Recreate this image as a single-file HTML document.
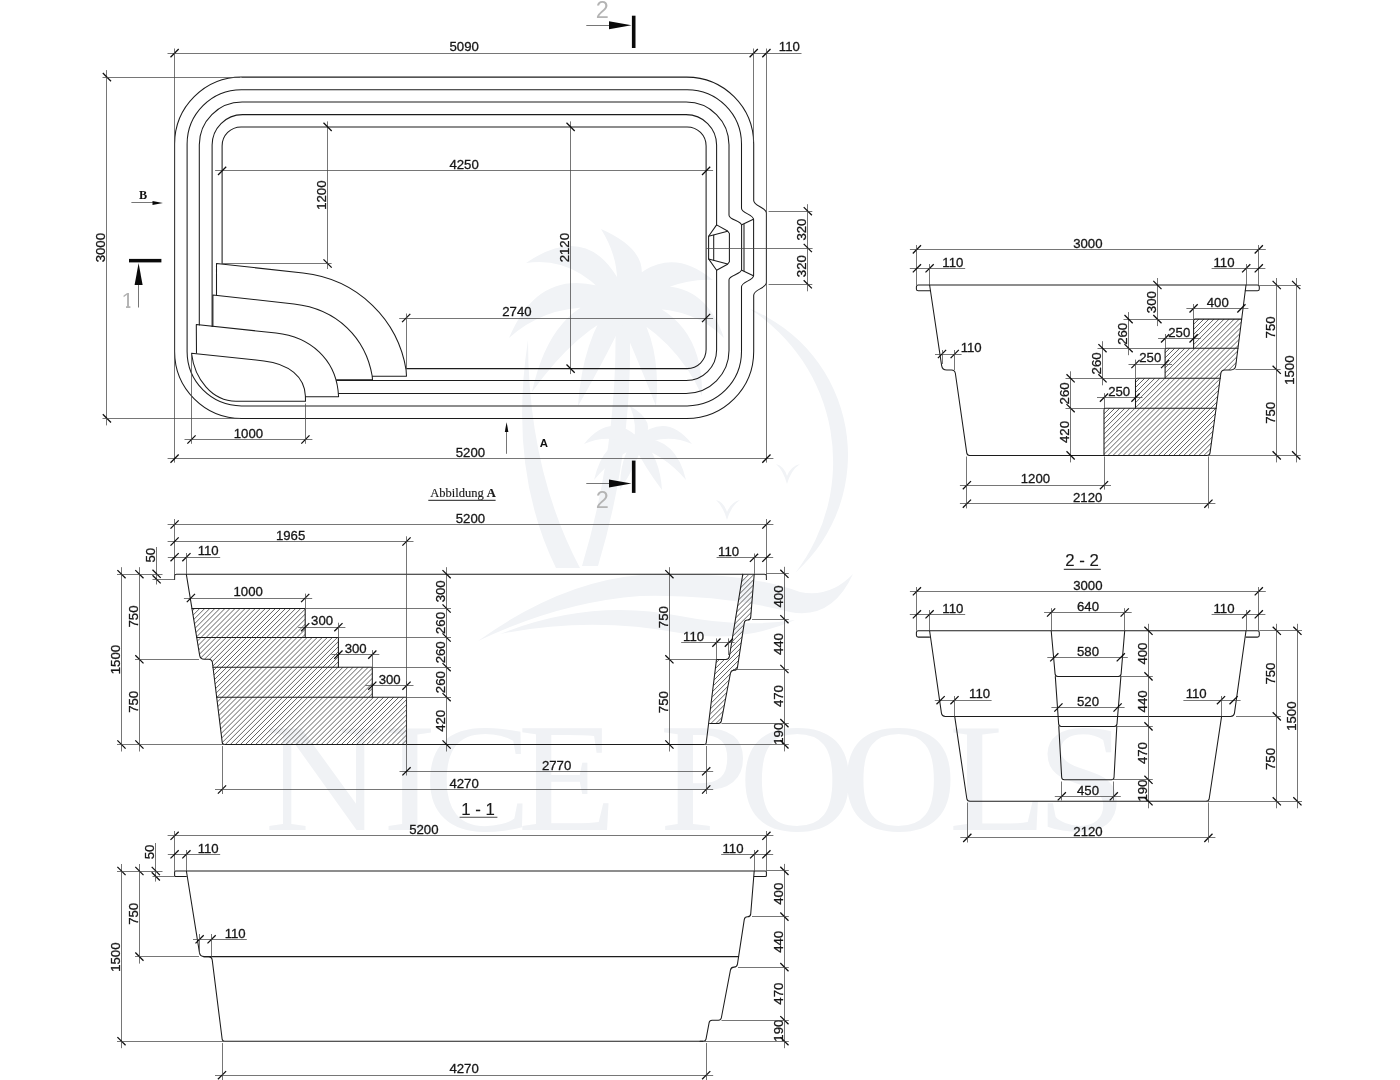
<!DOCTYPE html>
<html lang="de">
<head>
<meta charset="utf-8">
<title>Nice Pools – Abbildung A</title>
<style>
html,body{margin:0;padding:0;background:#fff;}
body{width:1400px;height:1080px;overflow:hidden;font-family:"Liberation Sans",sans-serif;}
svg{display:block;will-change:transform;}
.o{fill:none;stroke:#1c1c1c;stroke-width:1.05;stroke-linecap:round;stroke-linejoin:round;}
.o2{fill:none;stroke:#1c1c1c;stroke-width:1.15;stroke-linecap:round;stroke-linejoin:round;}
.h{fill:none;stroke:#505050;stroke-width:0.9;}
.d{fill:none;stroke:#484848;stroke-width:0.75;}
.t{fill:none;stroke:#0d0d0d;stroke-width:1.25;}
.tx{font-family:"Liberation Sans",sans-serif;font-size:13.2px;fill:#161616;stroke:#161616;stroke-width:0.3;text-anchor:middle;}
.lab{font-family:"Liberation Sans",sans-serif;font-size:16.8px;fill:#1a1a1a;stroke:#1a1a1a;stroke-width:0.15;text-anchor:middle;}
.sec{font-family:"Liberation Sans",sans-serif;font-size:22px;fill:#b4b4b4;text-anchor:middle;}
.ser{font-family:"Liberation Serif",serif;font-size:12.5px;fill:#1a1a1a;stroke:#1a1a1a;stroke-width:0.15;text-anchor:middle;}
.cu{fill:none;stroke:#4a4a4a;stroke-width:1.1;}
.bk{fill:#0a0a0a;stroke:none;}
</style>
</head>
<body>
<svg width="1400" height="1080" viewBox="0 0 1400 1080">
<g id="wm" fill="#f1f3f6" stroke="none">
<path d="M749.2 308.5 A158 158 0 0 1 795.7 572.4 A182 182 0 0 0 749.2 308.5 Z"/>
<path d="M528 340 Q528 470 580 568 L556 568 Q508 470 528 340 Z"/>
<path d="M615 306 Q620 440 582 566 L598 566 Q636 440 629 306 Z"/>
<circle cx="622" cy="302" r="14"/>
<circle cx="638" cy="442" r="8"/>
<path d="M630.6 299.5 Q663.2 256.5 601.0 229.0 Q624.8 267.5 613.4 304.5 Z M625.4 293.7 Q592.5 217.5 526.0 263.0 Q577.5 254.5 618.6 310.3 Z M619.3 293.4 Q541.9 258.9 509.0 338.0 Q554.1 297.1 624.7 310.6 Z M615.6 295.6 Q551.3 303.3 532.0 392.0 Q576.7 328.7 628.4 308.4 Z M624.1 310.7 Q672.7 277.4 713.0 280.0 Q663.3 238.6 619.9 293.3 Z M619.0 310.5 Q688.0 301.0 724.0 338.0 Q700.0 267.0 625.0 293.5 Z M615.1 307.8 Q676.3 337.7 702.0 396.0 Q703.7 314.3 628.9 296.2 Z M613.7 298.5 Q582.2 339.2 578.0 406.0 Q609.8 350.8 630.3 305.5 Z M613.4 304.8 Q633.7 349.7 656.0 406.0 Q662.3 340.3 630.6 299.2 Z"/>
<path d="M637.8 437.0 Q609.6 412.0 584.0 444.0 Q610.4 432.0 638.2 447.0 Z M634.7 438.2 Q603.5 438.4 594.0 480.0 Q616.5 453.6 641.3 445.8 Z M637.8 447.0 Q665.6 432.0 692.0 444.0 Q666.4 412.0 638.2 437.0 Z M634.9 445.9 Q663.8 453.8 686.0 480.0 Q676.2 438.2 641.1 438.1 Z M642.9 440.9 Q657.8 421.8 630.0 406.0 Q638.2 426.2 633.1 443.1 Z M633.3 440.2 Q619.6 458.8 620.0 490.0 Q636.4 465.2 642.7 443.8 Z M633.5 444.2 Q644.0 466.0 662.0 490.0 Q660.0 458.0 642.5 439.8 Z"/>
<path d="M478 641 Q560 582 640 575 Q740 570 800 592 Q830 598 853 574 Q832 620 790 612 Q720 594 640 596 Q560 602 478 641 Z"/>
<path d="M500 634 Q590 598 680 616 Q740 628 795 620 Q740 644 680 633 Q590 616 500 634 Z"/>
<path d="M716 500 Q724 502 727 512 Q731 502 740 500 Q731 506 727 520 Q723 506 716 500 Z M776 464 Q784 466 787 476 Q791 466 800 464 Q791 470 787 484 Q783 470 776 464 Z"/>
<text transform="scale(1.05 1)" x="252.1 364.5 403.3 493.1 600.0 628.0 703.5 800.2 903.6 987.5" y="830" style="font-family:'Liberation Serif',serif;font-size:154px;fill:#f0f2f5">NICE POOLS</text>
</g>

<path d="M241.6 77.1 H686.7 A67 67 0 0 1 753.7 144.1 V200.4 C753.7 206.16 766.4 207.44 766.4 213.2 V282.6 C766.4 288.27 753.7 289.53 753.7 295.2 V351.4 A67 67 0 0 1 686.7 418.4 H241.6 A67 67 0 0 1 174.6 351.4 V144.1 A67 67 0 0 1 241.6 77.1 Z" class="o"/>
<path d="M241.4 89.7 H687.2 A54.3 54.3 0 0 1 741.5 144 V208.2 C741.5 213.33 753.6 214.47 753.6 219.6 V275.4 C753.6 280.53 741.5 281.67 741.5 286.8 V351.6 A54.3 54.3 0 0 1 687.2 405.9 H241.4 A54.3 54.3 0 0 1 187.1 351.6 V144 A54.3 54.3 0 0 1 241.4 89.7 Z" class="o"/>
<path d="M199.3 325 V144.8 A42.8 42.8 0 0 1 242.1 102 H686.2 A42.8 42.8 0 0 1 729 144.8 V215.2 C729 219.79 741.6 220.81 741.6 225.4 V269.6 C741.6 274.19 729 275.21 729 279.8 V350.6 A42.8 42.8 0 0 1 686.2 393.4 H338.6" class="o"/>
<line x1="744" y1="224.4" x2="744" y2="270.6" class="o"/>
<line x1="753.4" y1="219.2" x2="741.8" y2="224.8" class="o"/>
<line x1="753.4" y1="275.8" x2="741.8" y2="270.2" class="o"/>
<path d="M212.1 326.5 V145.1 A30.5 30.5 0 0 1 242.6 114.6 H686.1 A30.5 30.5 0 0 1 716.6 145.1 V224.9" class="o"/>
<path d="M716.6 270.3 V350 A30.5 30.5 0 0 1 686.1 380.5 H336.6" class="o"/>
<path d="M716.6 224.9 L727.6 231 L729.4 233.5 L729.4 261.7 L727.6 264.2 L716.6 270.3 L708.6 258.9 L708.6 236.3 Z" class="o"/>
<path d="M708.6 236.3 L727.6 231.3" class="o"/>
<path d="M708.6 258.9 L727.6 263.9" class="o"/>
<path d="M713.7 235.2 L713.7 260" class="o"/>
<path d="M222.1 263.5 V145.9 A19 19 0 0 1 241.1 126.9 H687.1 A19 19 0 0 1 706.1 145.9 V349.6 A19 19 0 0 1 687.1 368.6 H406.2" class="o"/>
<path d="M216.5 295 L216.5 263.4 L303 273.1 C358.65 279.33 398.2 320.63 406.1 370 L406.5 376.3 H372.4" class="o"/>
<path d="M212.9 326.5 L212.9 295 L294 304.0 C337.73 308.9 365.83 338.54 372.2 376 L372.5 379.8 H336.6" class="o"/>
<path d="M196.5 353 L196.3 324.6 L276 333.0 C311.78 337.01 334.43 360.21 338 390 L338.6 396.8 H305.5" class="o"/>
<path d="M191.5 353.2 L264 360.9 C288.84 363.68 304.83 377.01 305.4 396 L305.5 401.2 H236 C212 401.2 194.6 379.01 191.5 353.2" class="o"/>
<line x1="167.5" y1="53.5" x2="801.5" y2="53.5" class="d"/>
<line x1="170.5" y1="57.2" x2="178.7" y2="49" class="t"/>
<line x1="749.6" y1="57.2" x2="757.8" y2="49" class="t"/>
<line x1="762.3" y1="57.2" x2="770.5" y2="49" class="t"/>
<text x="464.2" y="51.3" class="tx">5090</text>
<text x="789.3" y="51.3" class="tx">110</text>
<line x1="174.5" y1="48.5" x2="174.5" y2="462.6" class="d"/>
<line x1="753.5" y1="48.5" x2="753.5" y2="142" class="d"/>
<line x1="766.5" y1="48.5" x2="766.5" y2="462.6" class="d"/>
<line x1="106.5" y1="70.1" x2="106.5" y2="425.4" class="d"/>
<line x1="102.8" y1="73" x2="111" y2="81.2" class="t"/>
<line x1="102.8" y1="414.3" x2="111" y2="422.5" class="t"/>
<line x1="102.5" y1="77.5" x2="240" y2="77.5" class="d"/>
<line x1="102.5" y1="418.5" x2="240" y2="418.5" class="d"/>
<text transform="translate(105.1 247.7) rotate(-90)" class="tx">3000</text>
<line x1="215.1" y1="170.5" x2="713.1" y2="170.5" class="d"/>
<line x1="218" y1="175" x2="226.2" y2="166.8" class="t"/>
<line x1="702" y1="175" x2="710.2" y2="166.8" class="t"/>
<text x="464.1" y="169.1" class="tx">4250</text>
<line x1="327.5" y1="121.4" x2="327.5" y2="269" class="d"/>
<line x1="323.5" y1="122.8" x2="331.7" y2="131" class="t"/>
<line x1="323.5" y1="259.4" x2="331.7" y2="267.6" class="t"/>
<line x1="222.1" y1="263.5" x2="331.6" y2="263.5" class="d"/>
<text transform="translate(325.8 195.2) rotate(-90)" class="tx">1200</text>
<line x1="570.5" y1="121.4" x2="570.5" y2="374.1" class="d"/>
<line x1="566.5" y1="122.8" x2="574.7" y2="131" class="t"/>
<line x1="566.5" y1="364.5" x2="574.7" y2="372.7" class="t"/>
<text transform="translate(568.8 247.7) rotate(-90)" class="tx">2120</text>
<line x1="399.2" y1="318.5" x2="713.1" y2="318.5" class="d"/>
<line x1="402.1" y1="322.1" x2="410.3" y2="313.9" class="t"/>
<line x1="702" y1="322.1" x2="710.2" y2="313.9" class="t"/>
<line x1="406.5" y1="313.5" x2="406.5" y2="369" class="d"/>
<text x="516.9" y="316.2" class="tx">2740</text>
<line x1="807.5" y1="204.2" x2="807.5" y2="291.3" class="d"/>
<line x1="803.7" y1="207.1" x2="811.9" y2="215.3" class="t"/>
<line x1="803.7" y1="243.9" x2="811.9" y2="252.1" class="t"/>
<line x1="803.7" y1="280.2" x2="811.9" y2="288.4" class="t"/>
<line x1="768.6" y1="211.5" x2="812.3" y2="211.5" class="d"/>
<line x1="706.1" y1="248.5" x2="812.6" y2="248.5" class="d"/>
<line x1="768.6" y1="284.5" x2="812.3" y2="284.5" class="d"/>
<text transform="translate(806 229.6) rotate(-90)" class="tx">320</text>
<text transform="translate(806 266.2) rotate(-90)" class="tx">320</text>
<line x1="184.5" y1="439.5" x2="312.4" y2="439.5" class="d"/>
<line x1="187.4" y1="443.6" x2="195.6" y2="435.4" class="t"/>
<line x1="301.3" y1="443.6" x2="309.5" y2="435.4" class="t"/>
<line x1="191.5" y1="353.2" x2="191.5" y2="443.8" class="d"/>
<line x1="305.5" y1="403.5" x2="305.5" y2="443.8" class="d"/>
<text x="248.4" y="437.7" class="tx">1000</text>
<line x1="167.6" y1="458.5" x2="773.4" y2="458.5" class="d"/>
<line x1="170.5" y1="462.7" x2="178.7" y2="454.5" class="t"/>
<line x1="762.3" y1="462.7" x2="770.5" y2="454.5" class="t"/>
<text x="470.4" y="456.8" class="tx">5200</text>
<line x1="131.4" y1="202.5" x2="155" y2="202.5" class="d"/>
<path d="M162.9 202.9 L152.5 200.9 L152.5 204.9 Z" class="bk"/>
<text x="143.1" y="199" style="font-family:'Liberation Serif',serif;font-weight:bold;font-size:12.2px;fill:#111;text-anchor:middle">B</text>
<line x1="506.5" y1="430" x2="506.5" y2="453.8" class="d"/>
<path d="M506.6 422.2 L504.8 432 L508.4 432 Z" class="bk"/>
<text x="543.9" y="446.8" style="font-family:'Liberation Sans',sans-serif;font-weight:bold;font-size:11.4px;fill:#111;text-anchor:middle">A</text>
<rect x="129" y="258.9" width="32.4" height="3.5" class="bk"/>
<path d="M138.6 263 L134.6 285 L142.6 285 Z" class="bk"/>
<line x1="138.5" y1="285" x2="138.5" y2="307.5" class="d"/>
<clipPath id="c1"><path d="M118 286 H133 V300 H130.4 V310 H126 V300 H118 Z"/></clipPath>
<text x="127.5" y="307.8" class="sec" clip-path="url(#c1)">1</text>
<rect x="631.9" y="15.7" width="3.6" height="32.3" class="bk"/>
<path d="M631.5 25.2 L609 21.2 L609 29.2 Z" class="bk"/>
<line x1="586.3" y1="25.5" x2="609" y2="25.5" class="d"/>
<text x="602.4" y="18.2" class="sec" style="font-size:23.5px">2</text>
<rect x="631.9" y="460.6" width="3.6" height="32.3" class="bk"/>
<path d="M631.5 483.4 L609 479.4 L609 487.4 Z" class="bk"/>
<line x1="586.3" y1="483.5" x2="609" y2="483.5" class="d"/>
<text x="602.4" y="508.2" class="sec" style="font-size:23.5px">2</text>
<text x="463" y="497" class="ser">Abbildung <tspan font-weight="bold">A</tspan></text>
<line x1="428.3" y1="500.4" x2="495.6" y2="500.4" class="cu"/>
<path d="M174.6 579.5 V576 Q174.6 574.2 176.4 574.2 H764.6 Q766.4 574.2 766.4 576 V579.5" class="o"/>
<clipPath id="hc1"><path d="M191.94 608.5 L199.65 655.35 Q200.3 659.3 204.3 659.3 L208.5 659.3 Q212 659.3 212.43 662.77 L222.23 742.32 Q222.5 744.5 224.7 744.5 L406.5 744.5 L406.5 697.2 L372.3 697.2 L372.3 667.2 L338.4 667.2 L338.4 637.5 L305.2 637.5 L305.2 608.5 Z"/></clipPath>
<path d="M52.6 745.5L190.6 607.5M57.65 745.5L195.65 607.5M62.7 745.5L200.7 607.5M67.75 745.5L205.75 607.5M72.8 745.5L210.8 607.5M77.85 745.5L215.85 607.5M82.9 745.5L220.9 607.5M87.95 745.5L225.95 607.5M93 745.5L231 607.5M98.05 745.5L236.05 607.5M103.1 745.5L241.1 607.5M108.15 745.5L246.15 607.5M113.2 745.5L251.2 607.5M118.25 745.5L256.25 607.5M123.3 745.5L261.3 607.5M128.35 745.5L266.35 607.5M133.4 745.5L271.4 607.5M138.45 745.5L276.45 607.5M143.5 745.5L281.5 607.5M148.55 745.5L286.55 607.5M153.6 745.5L291.6 607.5M158.65 745.5L296.65 607.5M163.7 745.5L301.7 607.5M168.75 745.5L306.75 607.5M173.8 745.5L311.8 607.5M178.85 745.5L316.85 607.5M183.9 745.5L321.9 607.5M188.95 745.5L326.95 607.5M194 745.5L332 607.5M199.05 745.5L337.05 607.5M204.1 745.5L342.1 607.5M209.15 745.5L347.15 607.5M214.2 745.5L352.2 607.5M219.25 745.5L357.25 607.5M224.3 745.5L362.3 607.5M229.35 745.5L367.35 607.5M234.4 745.5L372.4 607.5M239.45 745.5L377.45 607.5M244.5 745.5L382.5 607.5M249.55 745.5L387.55 607.5M254.6 745.5L392.6 607.5M259.65 745.5L397.65 607.5M264.7 745.5L402.7 607.5M269.75 745.5L407.75 607.5M274.8 745.5L412.8 607.5M279.85 745.5L417.85 607.5M284.9 745.5L422.9 607.5M289.95 745.5L427.95 607.5M295 745.5L433 607.5M300.05 745.5L438.05 607.5M305.1 745.5L443.1 607.5M310.15 745.5L448.15 607.5M315.2 745.5L453.2 607.5M320.25 745.5L458.25 607.5M325.3 745.5L463.3 607.5M330.35 745.5L468.35 607.5M335.4 745.5L473.4 607.5M340.45 745.5L478.45 607.5M345.5 745.5L483.5 607.5M350.55 745.5L488.55 607.5M355.6 745.5L493.6 607.5M360.65 745.5L498.65 607.5M365.7 745.5L503.7 607.5M370.75 745.5L508.75 607.5M375.8 745.5L513.8 607.5M380.85 745.5L518.85 607.5M385.9 745.5L523.9 607.5M390.95 745.5L528.95 607.5M396 745.5L534 607.5M401.05 745.5L539.05 607.5M406.1 745.5L544.1 607.5" class="h" clip-path="url(#hc1)"/>
<path d="M191.94 608.5 H305.2 V637.5" class="o"/>
<path d="M196.71 637.5 H338.4 V667.2" class="o"/>
<path d="M212.97 667.2 H372.3 V697.2" class="o"/>
<path d="M216.67 697.2 H406.5 V744.5" class="o"/>
<clipPath id="hc2"><path d="M754.2 574.2 L750.73 617.11 Q750.5 620 747.6 620 L747.6 620 Q744.7 620 744.26 622.87 L737.45 667.33 Q737 670.3 734 670.3 L734 670.3 Q731 670.3 730.44 673.25 L721.37 720.94 Q720.9 723.4 718.4 723.4 L709.6 723.4 L709 723.4 L716.5 659.4 L726.2 659.4 L728.9 656.8 L742.8 574.2 Z"/></clipPath>
<path d="M553.45 724.4L704.65 573.2M558.5 724.4L709.7 573.2M563.55 724.4L714.75 573.2M568.6 724.4L719.8 573.2M573.65 724.4L724.85 573.2M578.7 724.4L729.9 573.2M583.75 724.4L734.95 573.2M588.8 724.4L740 573.2M593.85 724.4L745.05 573.2M598.9 724.4L750.1 573.2M603.95 724.4L755.15 573.2M609 724.4L760.2 573.2M614.05 724.4L765.25 573.2M619.1 724.4L770.3 573.2M624.15 724.4L775.35 573.2M629.2 724.4L780.4 573.2M634.25 724.4L785.45 573.2M639.3 724.4L790.5 573.2M644.35 724.4L795.55 573.2M649.4 724.4L800.6 573.2M654.45 724.4L805.65 573.2M659.5 724.4L810.7 573.2M664.55 724.4L815.75 573.2M669.6 724.4L820.8 573.2M674.65 724.4L825.85 573.2M679.7 724.4L830.9 573.2M684.75 724.4L835.95 573.2M689.8 724.4L841 573.2M694.85 724.4L846.05 573.2M699.9 724.4L851.1 573.2M704.95 724.4L856.15 573.2M710 724.4L861.2 573.2M715.05 724.4L866.25 573.2M720.1 724.4L871.3 573.2M725.15 724.4L876.35 573.2M730.2 724.4L881.4 573.2M735.25 724.4L886.45 573.2M740.3 724.4L891.5 573.2M745.35 724.4L896.55 573.2M750.4 724.4L901.6 573.2" class="h" clip-path="url(#hc2)"/>
<path d="M186.3 574.2 L199.65 655.35 Q200.3 659.3 204.3 659.3 L208.5 659.3 Q212 659.3 212.43 662.77 L222.23 742.32 Q222.5 744.5 224.7 744.5 L702.9 744.5" class="o"/>
<path d="M754.2 574.2 L750.73 617.11 Q750.5 620 747.6 620 L747.6 620 Q744.7 620 744.26 622.87 L737.45 667.33 Q737 670.3 734 670.3 L734 670.3 Q731 670.3 730.44 673.25 L721.37 720.94 Q720.9 723.4 718.4 723.4 L709.6 723.4" class="o"/>
<path d="M742.8 574.2 L729.38 656.44 Q728.9 659.4 725.9 659.4 L716.5 659.4 L706.19 742.96 Q706 744.5 704.45 744.5 L702.9 744.5" class="o"/>
<line x1="167.6" y1="524.5" x2="773.4" y2="524.5" class="d"/>
<line x1="170.5" y1="528.6" x2="178.7" y2="520.4" class="t"/>
<line x1="762.3" y1="528.6" x2="770.5" y2="520.4" class="t"/>
<text x="470.4" y="522.7" class="tx">5200</text>
<line x1="174.5" y1="519" x2="174.5" y2="579.3" class="d"/>
<line x1="766.5" y1="519" x2="766.5" y2="579.3" class="d"/>
<line x1="167.6" y1="541.5" x2="413.5" y2="541.5" class="d"/>
<line x1="170.5" y1="545.6" x2="178.7" y2="537.4" class="t"/>
<line x1="402.4" y1="545.6" x2="410.6" y2="537.4" class="t"/>
<text x="290.6" y="539.7" class="tx">1965</text>
<line x1="406.5" y1="536.3" x2="406.5" y2="775.5" class="d"/>
<line x1="167.8" y1="557.5" x2="220.2" y2="557.5" class="d"/>
<line x1="170.5" y1="561.3" x2="178.7" y2="553.1" class="t"/>
<line x1="182.3" y1="561.3" x2="190.5" y2="553.1" class="t"/>
<text x="208.2" y="555.4" class="tx">110</text>
<line x1="186.5" y1="553" x2="186.5" y2="573.8" class="d"/>
<line x1="121.5" y1="567.2" x2="121.5" y2="751.5" class="d"/>
<line x1="117.4" y1="570.1" x2="125.6" y2="578.3" class="t"/>
<line x1="117.4" y1="740.4" x2="125.6" y2="748.6" class="t"/>
<text transform="translate(119.7 659.6) rotate(-90)" class="tx">1500</text>
<line x1="139.5" y1="567.2" x2="139.5" y2="751.5" class="d"/>
<line x1="135.3" y1="570.1" x2="143.5" y2="578.3" class="t"/>
<line x1="135.3" y1="655.2" x2="143.5" y2="663.4" class="t"/>
<line x1="135.3" y1="740.4" x2="143.5" y2="748.6" class="t"/>
<text transform="translate(137.6 616.5) rotate(-90)" class="tx">750</text>
<text transform="translate(137.6 701.8) rotate(-90)" class="tx">750</text>
<line x1="156.5" y1="547" x2="156.5" y2="584.5" class="d"/>
<line x1="152.5" y1="569.7" x2="160.7" y2="577.9" class="t"/>
<line x1="152.5" y1="575.2" x2="160.7" y2="583.4" class="t"/>
<text transform="translate(154.8 555.2) rotate(-90)" class="tx">50</text>
<line x1="117" y1="574.5" x2="162.5" y2="574.5" class="d"/>
<line x1="152.5" y1="579.5" x2="174.6" y2="579.5" class="d"/>
<line x1="135" y1="659.5" x2="199" y2="659.5" class="d"/>
<line x1="117" y1="744.5" x2="225" y2="744.5" class="d"/>
<line x1="183.9" y1="598.5" x2="312.2" y2="598.5" class="d"/>
<line x1="186.8" y1="602.1" x2="195" y2="593.9" class="t"/>
<line x1="301.1" y1="602.1" x2="309.3" y2="593.9" class="t"/>
<text x="248.2" y="596.2" class="tx">1000</text>
<line x1="305.5" y1="593.6" x2="305.5" y2="608.2" class="d"/>
<line x1="298.2" y1="627.5" x2="345.4" y2="627.5" class="d"/>
<line x1="301.1" y1="631.3" x2="309.3" y2="623.1" class="t"/>
<line x1="334.3" y1="631.3" x2="342.5" y2="623.1" class="t"/>
<text x="322.1" y="625.4" class="tx">300</text>
<line x1="338.5" y1="622.7" x2="338.5" y2="637.5" class="d"/>
<line x1="331.4" y1="654.5" x2="379.3" y2="654.5" class="d"/>
<line x1="334.3" y1="658.7" x2="342.5" y2="650.5" class="t"/>
<line x1="368.2" y1="658.7" x2="376.4" y2="650.5" class="t"/>
<text x="355.65" y="652.8" class="tx">300</text>
<line x1="372.5" y1="650.1" x2="372.5" y2="667.2" class="d"/>
<line x1="365.3" y1="685.5" x2="413.5" y2="685.5" class="d"/>
<line x1="368.2" y1="689.8" x2="376.4" y2="681.6" class="t"/>
<line x1="402.4" y1="689.8" x2="410.6" y2="681.6" class="t"/>
<text x="389.7" y="683.9" class="tx">300</text>
<line x1="406.5" y1="681.2" x2="406.5" y2="697.2" class="d"/>
<line x1="446.5" y1="567.2" x2="446.5" y2="751.5" class="d"/>
<line x1="442.5" y1="570.1" x2="450.7" y2="578.3" class="t"/>
<line x1="442.5" y1="604.4" x2="450.7" y2="612.6" class="t"/>
<line x1="442.5" y1="633.4" x2="450.7" y2="641.6" class="t"/>
<line x1="442.5" y1="663.1" x2="450.7" y2="671.3" class="t"/>
<line x1="442.5" y1="693.1" x2="450.7" y2="701.3" class="t"/>
<line x1="442.5" y1="740.4" x2="450.7" y2="748.6" class="t"/>
<text transform="translate(444.8 591.35) rotate(-90)" class="tx">300</text>
<text transform="translate(444.8 623) rotate(-90)" class="tx">260</text>
<text transform="translate(444.8 652.35) rotate(-90)" class="tx">260</text>
<text transform="translate(444.8 682.2) rotate(-90)" class="tx">260</text>
<text transform="translate(444.8 720.85) rotate(-90)" class="tx">420</text>
<line x1="305.2" y1="608.5" x2="451" y2="608.5" class="d"/>
<line x1="338.4" y1="637.5" x2="451" y2="637.5" class="d"/>
<line x1="372.3" y1="667.5" x2="451" y2="667.5" class="d"/>
<line x1="406.5" y1="697.5" x2="451" y2="697.5" class="d"/>
<line x1="669.5" y1="567.2" x2="669.5" y2="751.5" class="d"/>
<line x1="665.3" y1="570.1" x2="673.5" y2="578.3" class="t"/>
<line x1="665.3" y1="655.2" x2="673.5" y2="663.4" class="t"/>
<line x1="665.3" y1="740.4" x2="673.5" y2="748.6" class="t"/>
<text transform="translate(667.6 617.2) rotate(-90)" class="tx">750</text>
<text transform="translate(667.6 702.2) rotate(-90)" class="tx">750</text>
<line x1="665.5" y1="659.5" x2="716.4" y2="659.5" class="d"/>
<line x1="716.6" y1="557.5" x2="773.2" y2="557.5" class="d"/>
<line x1="749.9" y1="561.9" x2="758.1" y2="553.7" class="t"/>
<line x1="762.3" y1="561.9" x2="770.5" y2="553.7" class="t"/>
<text x="728.6" y="556" class="tx">110</text>
<line x1="754.5" y1="553.5" x2="754.5" y2="573.8" class="d"/>
<line x1="681.2" y1="642.5" x2="734.6" y2="642.5" class="d"/>
<line x1="712.3" y1="646.7" x2="720.5" y2="638.5" class="t"/>
<line x1="724.8" y1="646.7" x2="733" y2="638.5" class="t"/>
<text x="693.6" y="640.8" class="tx">110</text>
<line x1="716.5" y1="638.4" x2="716.5" y2="659.3" class="d"/>
<line x1="728.5" y1="638.4" x2="728.5" y2="655" class="d"/>
<line x1="784.5" y1="566.8" x2="784.5" y2="751.4" class="d"/>
<line x1="780.3" y1="569.7" x2="788.5" y2="577.9" class="t"/>
<line x1="780.3" y1="615.1" x2="788.5" y2="623.3" class="t"/>
<line x1="780.3" y1="664.9" x2="788.5" y2="673.1" class="t"/>
<line x1="780.3" y1="719" x2="788.5" y2="727.2" class="t"/>
<line x1="780.3" y1="740.3" x2="788.5" y2="748.5" class="t"/>
<text transform="translate(782.6 596.5) rotate(-90)" class="tx">400</text>
<text transform="translate(782.6 644.1) rotate(-90)" class="tx">440</text>
<text transform="translate(782.6 696.05) rotate(-90)" class="tx">470</text>
<text transform="translate(782.6 733.75) rotate(-90)" class="tx">190</text>
<line x1="766.4" y1="573.5" x2="788.8" y2="573.5" class="d"/>
<line x1="752" y1="619.5" x2="788.8" y2="619.5" class="d"/>
<line x1="733" y1="669.5" x2="788.8" y2="669.5" class="d"/>
<line x1="721.5" y1="723.5" x2="788.8" y2="723.5" class="d"/>
<line x1="704" y1="744.5" x2="788.8" y2="744.5" class="d"/>
<line x1="399.5" y1="771.5" x2="713.2" y2="771.5" class="d"/>
<line x1="402.4" y1="775.4" x2="410.6" y2="767.2" class="t"/>
<line x1="702.1" y1="775.4" x2="710.3" y2="767.2" class="t"/>
<text x="556.6" y="769.5" class="tx">2770</text>
<line x1="215" y1="789.5" x2="713.2" y2="789.5" class="d"/>
<line x1="217.9" y1="793.6" x2="226.1" y2="785.4" class="t"/>
<line x1="702.1" y1="793.6" x2="710.3" y2="785.4" class="t"/>
<text x="464.1" y="787.7" class="tx">4270</text>
<line x1="222.5" y1="746" x2="222.5" y2="794" class="d"/>
<line x1="706.5" y1="746" x2="706.5" y2="794" class="d"/>
<text x="478" y="814.6" class="lab">1 - 1</text>
<line x1="459.6" y1="817.3" x2="497.4" y2="817.3" class="cu"/>
<path d="M186.4 876.4 H175.6 Q174.6 876.4 174.6 875.4 V871.9 Q174.6 870.9 175.6 870.9 H765.4 Q766.4 870.9 766.4 871.9 V875.4 Q766.4 876.4 765.4 876.4 H754.2" class="o"/>
<path d="M186.4 871 L199.47 952.65 Q200.1 956.6 204.1 956.6 L208.3 956.6 Q211.8 956.6 212.24 960.07 L222.13 1039.02 Q222.4 1041.2 224.6 1041.2 L703 1041.2" class="o"/>
<path d="M754.2 871 L750.73 913.91 Q750.5 916.8 747.6 916.8 L747.6 916.8 Q744.7 916.8 744.26 919.67 L737.45 964.13 Q737 967.1 734 967.1 L734 967.1 Q731 967.1 730.44 970.05 L721.37 1017.74 Q720.9 1020.2 718.4 1020.2 L712.1 1020.2 Q709.6 1020.2 709.13 1022.66 L706.01 1039.04 Q705.6 1041.2 703.4 1041.2 L700 1041.2" class="o"/>
<line x1="203.5" y1="956.6" x2="738.6" y2="956.6" class="o"/>
<line x1="167.6" y1="835.5" x2="773.4" y2="835.5" class="d"/>
<line x1="170.5" y1="839.9" x2="178.7" y2="831.7" class="t"/>
<line x1="762.3" y1="839.9" x2="770.5" y2="831.7" class="t"/>
<text x="423.8" y="834" class="tx">5200</text>
<line x1="174.5" y1="831" x2="174.5" y2="870.9" class="d"/>
<line x1="766.5" y1="831" x2="766.5" y2="870.9" class="d"/>
<line x1="167.8" y1="854.5" x2="220.2" y2="854.5" class="d"/>
<line x1="170.5" y1="858.4" x2="178.7" y2="850.2" class="t"/>
<line x1="182.3" y1="858.4" x2="190.5" y2="850.2" class="t"/>
<text x="208.2" y="852.5" class="tx">110</text>
<line x1="186.5" y1="850" x2="186.5" y2="870.9" class="d"/>
<line x1="721.2" y1="854.5" x2="773.2" y2="854.5" class="d"/>
<line x1="750.1" y1="858.4" x2="758.3" y2="850.2" class="t"/>
<line x1="762.3" y1="858.4" x2="770.5" y2="850.2" class="t"/>
<text x="733" y="852.5" class="tx">110</text>
<line x1="754.5" y1="850" x2="754.5" y2="870.9" class="d"/>
<line x1="121.5" y1="864" x2="121.5" y2="1048.2" class="d"/>
<line x1="117.4" y1="866.9" x2="125.6" y2="875.1" class="t"/>
<line x1="117.4" y1="1037.1" x2="125.6" y2="1045.3" class="t"/>
<text transform="translate(119.7 957.2) rotate(-90)" class="tx">1500</text>
<line x1="139.5" y1="864" x2="139.5" y2="963.6" class="d"/>
<line x1="135.3" y1="866.9" x2="143.5" y2="875.1" class="t"/>
<line x1="135.3" y1="952.5" x2="143.5" y2="960.7" class="t"/>
<text transform="translate(137.6 913.8) rotate(-90)" class="tx">750</text>
<line x1="155.5" y1="843" x2="155.5" y2="881.6" class="d"/>
<line x1="151.7" y1="866.9" x2="159.9" y2="875.1" class="t"/>
<line x1="151.7" y1="872.3" x2="159.9" y2="880.5" class="t"/>
<text transform="translate(154 852) rotate(-90)" class="tx">50</text>
<line x1="117" y1="871.5" x2="162.5" y2="871.5" class="d"/>
<line x1="152.5" y1="876.5" x2="174.6" y2="876.5" class="d"/>
<line x1="135" y1="956.5" x2="199" y2="956.5" class="d"/>
<line x1="117" y1="1041.5" x2="224" y2="1041.5" class="d"/>
<line x1="193" y1="939.5" x2="246.8" y2="939.5" class="d"/>
<line x1="195.5" y1="943.4" x2="203.7" y2="935.2" class="t"/>
<line x1="207.5" y1="943.4" x2="215.7" y2="935.2" class="t"/>
<text x="235.2" y="937.5" class="tx">110</text>
<line x1="199.5" y1="934" x2="199.5" y2="953" class="d"/>
<line x1="211.5" y1="934" x2="211.5" y2="958" class="d"/>
<line x1="784.5" y1="863.9" x2="784.5" y2="1048.2" class="d"/>
<line x1="780.3" y1="866.8" x2="788.5" y2="875" class="t"/>
<line x1="780.3" y1="912.5" x2="788.5" y2="920.7" class="t"/>
<line x1="780.3" y1="963" x2="788.5" y2="971.2" class="t"/>
<line x1="780.3" y1="1016.1" x2="788.5" y2="1024.3" class="t"/>
<line x1="780.3" y1="1037.1" x2="788.5" y2="1045.3" class="t"/>
<text transform="translate(782.6 893.75) rotate(-90)" class="tx">400</text>
<text transform="translate(782.6 941.85) rotate(-90)" class="tx">440</text>
<text transform="translate(782.6 993.65) rotate(-90)" class="tx">470</text>
<text transform="translate(782.6 1030.7) rotate(-90)" class="tx">190</text>
<line x1="766.4" y1="870.5" x2="788.8" y2="870.5" class="d"/>
<line x1="752" y1="916.5" x2="788.8" y2="916.5" class="d"/>
<line x1="738" y1="967.5" x2="788.8" y2="967.5" class="d"/>
<line x1="721.5" y1="1020.5" x2="788.8" y2="1020.5" class="d"/>
<line x1="704" y1="1041.5" x2="788.8" y2="1041.5" class="d"/>
<line x1="215" y1="1075.5" x2="713.2" y2="1075.5" class="d"/>
<line x1="217.9" y1="1079.3" x2="226.1" y2="1071.1" class="t"/>
<line x1="702.1" y1="1079.3" x2="710.3" y2="1071.1" class="t"/>
<text x="464.1" y="1073.4" class="tx">4270</text>
<line x1="222.5" y1="1043" x2="222.5" y2="1080" class="d"/>
<line x1="706.5" y1="1043" x2="706.5" y2="1080" class="d"/>
<path d="M930.4 290.8 H918.3 Q916.4 290.8 916.4 288.9 V287 Q916.4 285 918.4 285 H1257.3 Q1259.3 285 1259.3 287 V288.9 Q1259.3 290.8 1257.4 290.8 H1245.3" class="o"/>
<path d="M929.6 285 L941.64 365.55 Q942.3 370 946.8 370 L951.4 370 Q954.9 370 955.39 373.46 L966.75 452.93 Q967.1 455.4 969.6 455.4 L1104 455.4" class="o"/>
<clipPath id="hc3"><path d="M1241.67 319.1 L1235.77 365.54 Q1235.2 370 1230.7 370 L1224.8 370 Q1221.3 370 1220.83 373.47 L1210.04 452.92 Q1209.7 455.4 1207.2 455.4 L1104 455.4 L1104.0 408.2 L1135.5 408.2 L1135.5 378.3 L1165.1 378.3 L1165.1 348.2 L1193.6 348.2 L1193.6 319.1 Z"/></clipPath>
<path d="M960.55 456.4L1098.85 318.1M965.6 456.4L1103.9 318.1M970.65 456.4L1108.95 318.1M975.7 456.4L1114 318.1M980.75 456.4L1119.05 318.1M985.8 456.4L1124.1 318.1M990.85 456.4L1129.15 318.1M995.9 456.4L1134.2 318.1M1000.95 456.4L1139.25 318.1M1006 456.4L1144.3 318.1M1011.05 456.4L1149.35 318.1M1016.1 456.4L1154.4 318.1M1021.15 456.4L1159.45 318.1M1026.2 456.4L1164.5 318.1M1031.25 456.4L1169.55 318.1M1036.3 456.4L1174.6 318.1M1041.35 456.4L1179.65 318.1M1046.4 456.4L1184.7 318.1M1051.45 456.4L1189.75 318.1M1056.5 456.4L1194.8 318.1M1061.55 456.4L1199.85 318.1M1066.6 456.4L1204.9 318.1M1071.65 456.4L1209.95 318.1M1076.7 456.4L1215 318.1M1081.75 456.4L1220.05 318.1M1086.8 456.4L1225.1 318.1M1091.85 456.4L1230.15 318.1M1096.9 456.4L1235.2 318.1M1101.95 456.4L1240.25 318.1M1107 456.4L1245.3 318.1M1112.05 456.4L1250.35 318.1M1117.1 456.4L1255.4 318.1M1122.15 456.4L1260.45 318.1M1127.2 456.4L1265.5 318.1M1132.25 456.4L1270.55 318.1M1137.3 456.4L1275.6 318.1M1142.35 456.4L1280.65 318.1M1147.4 456.4L1285.7 318.1M1152.45 456.4L1290.75 318.1M1157.5 456.4L1295.8 318.1M1162.55 456.4L1300.85 318.1M1167.6 456.4L1305.9 318.1M1172.65 456.4L1310.95 318.1M1177.7 456.4L1316 318.1M1182.75 456.4L1321.05 318.1M1187.8 456.4L1326.1 318.1M1192.85 456.4L1331.15 318.1M1197.9 456.4L1336.2 318.1M1202.95 456.4L1341.25 318.1M1208 456.4L1346.3 318.1M1213.05 456.4L1351.35 318.1M1218.1 456.4L1356.4 318.1M1223.15 456.4L1361.45 318.1M1228.2 456.4L1366.5 318.1M1233.25 456.4L1371.55 318.1M1238.3 456.4L1376.6 318.1" class="h" clip-path="url(#hc3)"/>
<path d="M1246 285 L1235.77 365.54 Q1235.2 370 1230.7 370 L1224.8 370 Q1221.3 370 1220.83 373.47 L1210.04 452.92 Q1209.7 455.4 1207.2 455.4 L1104 455.4" class="o"/>
<path d="M1241.67 319.1 L1195.1 319.1 Q1193.6 319.1 1193.6 320.6 L1193.6 348.2" class="o"/>
<path d="M1237.97 348.2 L1166.6 348.2 Q1165.1 348.2 1165.1 349.7 L1165.1 378.3" class="o"/>
<path d="M1220.17 378.3 L1137 378.3 Q1135.5 378.3 1135.5 379.8 L1135.5 408.2" class="o"/>
<path d="M1216.11 408.2 L1105.5 408.2 Q1104 408.2 1104 409.7 L1104 455.4" class="o"/>
<line x1="909.9" y1="249.5" x2="1265.8" y2="249.5" class="d"/>
<line x1="912.8" y1="253.5" x2="921" y2="245.3" class="t"/>
<line x1="1254.7" y1="253.5" x2="1262.9" y2="245.3" class="t"/>
<text x="1087.8" y="247.6" class="tx">3000</text>
<line x1="916.5" y1="245" x2="916.5" y2="285" class="d"/>
<line x1="1258.5" y1="245" x2="1258.5" y2="285" class="d"/>
<line x1="909.8" y1="268.5" x2="965.2" y2="268.5" class="d"/>
<line x1="912.8" y1="272.4" x2="921" y2="264.2" class="t"/>
<line x1="925.5" y1="272.4" x2="933.7" y2="264.2" class="t"/>
<text x="952.8" y="266.5" class="tx">110</text>
<line x1="929.5" y1="264" x2="929.5" y2="285" class="d"/>
<line x1="1211.6" y1="268.5" x2="1265.4" y2="268.5" class="d"/>
<line x1="1242.1" y1="272.4" x2="1250.3" y2="264.2" class="t"/>
<line x1="1254.7" y1="272.4" x2="1262.9" y2="264.2" class="t"/>
<text x="1224" y="266.5" class="tx">110</text>
<line x1="1246.5" y1="264" x2="1246.5" y2="285" class="d"/>
<line x1="935" y1="354.5" x2="961.6" y2="354.5" class="d"/>
<line x1="937.9" y1="358.1" x2="946.1" y2="349.9" class="t"/>
<line x1="950.6" y1="358.1" x2="958.8" y2="349.9" class="t"/>
<text x="971.2" y="352.2" class="tx">110</text>
<line x1="942.5" y1="350" x2="942.5" y2="364" class="d"/>
<line x1="954.5" y1="350" x2="954.5" y2="370" class="d"/>
<line x1="1157.5" y1="278" x2="1157.5" y2="326.1" class="d"/>
<line x1="1153.3" y1="280.9" x2="1161.5" y2="289.1" class="t"/>
<line x1="1153.3" y1="315" x2="1161.5" y2="323.2" class="t"/>
<text transform="translate(1155.6 302.2) rotate(-90)" class="tx">300</text>
<line x1="1123.5" y1="319.5" x2="1193.6" y2="319.5" class="d"/>
<line x1="1128.5" y1="312.1" x2="1128.5" y2="355.2" class="d"/>
<line x1="1124.5" y1="315" x2="1132.7" y2="323.2" class="t"/>
<line x1="1124.5" y1="344.1" x2="1132.7" y2="352.3" class="t"/>
<text transform="translate(1126.8 333.8) rotate(-90)" class="tx">260</text>
<line x1="1097.5" y1="348.5" x2="1165.1" y2="348.5" class="d"/>
<line x1="1102.5" y1="341.2" x2="1102.5" y2="385.3" class="d"/>
<line x1="1098.4" y1="344.1" x2="1106.6" y2="352.3" class="t"/>
<line x1="1098.4" y1="374.2" x2="1106.6" y2="382.4" class="t"/>
<text transform="translate(1100.7 363.4) rotate(-90)" class="tx">260</text>
<line x1="1065.5" y1="378.5" x2="1135.5" y2="378.5" class="d"/>
<line x1="1070.5" y1="371.3" x2="1070.5" y2="462.4" class="d"/>
<line x1="1066.5" y1="374.2" x2="1074.7" y2="382.4" class="t"/>
<line x1="1066.5" y1="404.1" x2="1074.7" y2="412.3" class="t"/>
<line x1="1066.5" y1="451.3" x2="1074.7" y2="459.5" class="t"/>
<text transform="translate(1068.8 393.4) rotate(-90)" class="tx">260</text>
<text transform="translate(1068.8 432) rotate(-90)" class="tx">420</text>
<line x1="1065.5" y1="408.5" x2="1104" y2="408.5" class="d"/>
<line x1="1186.4" y1="308.5" x2="1248.4" y2="308.5" class="d"/>
<line x1="1189.5" y1="312.5" x2="1197.7" y2="304.3" class="t"/>
<line x1="1237.3" y1="312.5" x2="1245.5" y2="304.3" class="t"/>
<text x="1217.8" y="306.6" class="tx">400</text>
<line x1="1193.5" y1="304" x2="1193.5" y2="319.1" class="d"/>
<line x1="1158.1" y1="338.5" x2="1200.6" y2="338.5" class="d"/>
<line x1="1161" y1="342.5" x2="1169.2" y2="334.3" class="t"/>
<line x1="1189.5" y1="342.5" x2="1197.7" y2="334.3" class="t"/>
<text x="1179.3" y="336.6" class="tx">250</text>
<line x1="1128.5" y1="364.5" x2="1172.1" y2="364.5" class="d"/>
<line x1="1131.4" y1="368.1" x2="1139.6" y2="359.9" class="t"/>
<line x1="1161" y1="368.1" x2="1169.2" y2="359.9" class="t"/>
<text x="1150.3" y="362.2" class="tx">250</text>
<line x1="1097" y1="397.5" x2="1142.5" y2="397.5" class="d"/>
<line x1="1099.9" y1="401.7" x2="1108.1" y2="393.5" class="t"/>
<line x1="1131.4" y1="401.7" x2="1139.6" y2="393.5" class="t"/>
<text x="1119.2" y="395.8" class="tx">250</text>
<line x1="1165.5" y1="334" x2="1165.5" y2="348.2" class="d"/>
<line x1="1135.5" y1="359.6" x2="1135.5" y2="378.3" class="d"/>
<line x1="1104.5" y1="393.2" x2="1104.5" y2="408.2" class="d"/>
<line x1="1276.5" y1="278" x2="1276.5" y2="462.4" class="d"/>
<line x1="1272.6" y1="280.9" x2="1280.8" y2="289.1" class="t"/>
<line x1="1272.6" y1="365.7" x2="1280.8" y2="373.9" class="t"/>
<line x1="1272.6" y1="451.3" x2="1280.8" y2="459.5" class="t"/>
<text transform="translate(1274.9 327.4) rotate(-90)" class="tx">750</text>
<text transform="translate(1274.9 412.8) rotate(-90)" class="tx">750</text>
<line x1="1296.5" y1="278" x2="1296.5" y2="462.4" class="d"/>
<line x1="1292.1" y1="280.9" x2="1300.3" y2="289.1" class="t"/>
<line x1="1292.1" y1="451.3" x2="1300.3" y2="459.5" class="t"/>
<text transform="translate(1294.4 370.2) rotate(-90)" class="tx">1500</text>
<line x1="1259.3" y1="285.5" x2="1300.8" y2="285.5" class="d"/>
<line x1="1235.4" y1="369.5" x2="1280.6" y2="369.5" class="d"/>
<line x1="1207.2" y1="455.5" x2="1300.8" y2="455.5" class="d"/>
<line x1="959.9" y1="485.5" x2="1111" y2="485.5" class="d"/>
<line x1="962.8" y1="489.3" x2="971" y2="481.1" class="t"/>
<line x1="1099.9" y1="489.3" x2="1108.1" y2="481.1" class="t"/>
<text x="1035.4" y="483.4" class="tx">1200</text>
<line x1="959.9" y1="503.5" x2="1215.4" y2="503.5" class="d"/>
<line x1="962.8" y1="507.8" x2="971" y2="499.6" class="t"/>
<line x1="1204.3" y1="507.8" x2="1212.5" y2="499.6" class="t"/>
<text x="1087.7" y="501.9" class="tx">2120</text>
<line x1="966.5" y1="456.5" x2="966.5" y2="508.4" class="d"/>
<line x1="1104.5" y1="456.5" x2="1104.5" y2="489.6" class="d"/>
<line x1="1208.5" y1="456.5" x2="1208.5" y2="508.4" class="d"/>
<text x="1082" y="566.2" class="lab">2 - 2</text>
<line x1="1063.8" y1="569.4" x2="1100.8" y2="569.4" class="cu"/>
<path d="M929.6 637.1 H918.3 Q916.4 637.1 916.4 635.2 V632.8 Q916.4 630.8 918.4 630.8 H1257.3 Q1259.3 630.8 1259.3 632.8 V635.2 Q1259.3 637.1 1257.4 637.1 H1246" class="o"/>
<path d="M929.6 630.8 L941.4 712.94 Q941.9 716.4 945.4 716.4 L1230.5 716.4 Q1234 716.4 1234.49 712.93 L1246 630.8" class="o"/>
<path d="M954.7 716.4 L966.79 798.53 Q967.2 801.3 970 801.3 L1206 801.3 Q1208.8 801.3 1209.22 798.53 L1221.6 716.4" class="o"/>
<path d="M1051.2 630.8 L1055.08 673.91 Q1055.3 676.4 1057.8 676.4 L1118.4 676.4 Q1120.9 676.4 1121.11 673.91 L1124.7 630.8" class="o"/>
<path d="M1055.3 676.4 L1058.63 723.91 Q1058.8 726.4 1061.3 726.4 L1114.3 726.4 Q1116.8 726.4 1117 723.91 L1120.9 676.4" class="o"/>
<path d="M1058.8 726.4 L1061.66 777.3 Q1061.8 779.8 1064.3 779.8 L1111.4 779.8 Q1113.9 779.8 1114.04 777.3 L1116.8 726.4" class="o"/>
<line x1="909.9" y1="591.5" x2="1265.8" y2="591.5" class="d"/>
<line x1="912.8" y1="595.4" x2="921" y2="587.2" class="t"/>
<line x1="1254.7" y1="595.4" x2="1262.9" y2="587.2" class="t"/>
<text x="1087.8" y="589.5" class="tx">3000</text>
<line x1="916.5" y1="587" x2="916.5" y2="630.8" class="d"/>
<line x1="1258.5" y1="587" x2="1258.5" y2="630.8" class="d"/>
<line x1="909.8" y1="614.5" x2="965.2" y2="614.5" class="d"/>
<line x1="912.8" y1="618.4" x2="921" y2="610.2" class="t"/>
<line x1="925.5" y1="618.4" x2="933.7" y2="610.2" class="t"/>
<text x="952.8" y="612.5" class="tx">110</text>
<line x1="929.5" y1="610" x2="929.5" y2="630.8" class="d"/>
<line x1="1211.6" y1="614.5" x2="1265.4" y2="614.5" class="d"/>
<line x1="1242.1" y1="618.4" x2="1250.3" y2="610.2" class="t"/>
<line x1="1254.7" y1="618.4" x2="1262.9" y2="610.2" class="t"/>
<text x="1224" y="612.5" class="tx">110</text>
<line x1="1246.5" y1="610" x2="1246.5" y2="630.8" class="d"/>
<line x1="1044.1" y1="612.5" x2="1131.7" y2="612.5" class="d"/>
<line x1="1047" y1="616.6" x2="1055.2" y2="608.4" class="t"/>
<line x1="1120.6" y1="616.6" x2="1128.8" y2="608.4" class="t"/>
<text x="1088" y="610.7" class="tx">640</text>
<line x1="1051.5" y1="608.2" x2="1051.5" y2="630.8" class="d"/>
<line x1="1124.5" y1="608.2" x2="1124.5" y2="630.8" class="d"/>
<line x1="1047.3" y1="657.5" x2="1127.8" y2="657.5" class="d"/>
<line x1="1050.2" y1="661.4" x2="1058.4" y2="653.2" class="t"/>
<line x1="1116.7" y1="661.4" x2="1124.9" y2="653.2" class="t"/>
<text x="1088" y="655.5" class="tx">580</text>
<line x1="1051.4" y1="707.5" x2="1124.6" y2="707.5" class="d"/>
<line x1="1054.3" y1="711.6" x2="1062.5" y2="703.4" class="t"/>
<line x1="1113.5" y1="711.6" x2="1121.7" y2="703.4" class="t"/>
<text x="1088" y="705.7" class="tx">520</text>
<line x1="1054.8" y1="796.5" x2="1120.8" y2="796.5" class="d"/>
<line x1="1057.7" y1="800.4" x2="1065.9" y2="792.2" class="t"/>
<line x1="1109.7" y1="800.4" x2="1117.9" y2="792.2" class="t"/>
<text x="1088" y="794.5" class="tx">450</text>
<line x1="1061.5" y1="781.5" x2="1061.5" y2="800.5" class="d"/>
<line x1="1113.5" y1="781.5" x2="1113.5" y2="800.5" class="d"/>
<line x1="934.8" y1="700.5" x2="991.6" y2="700.5" class="d"/>
<line x1="936.5" y1="704.3" x2="944.7" y2="696.1" class="t"/>
<line x1="950.4" y1="704.3" x2="958.6" y2="696.1" class="t"/>
<text x="979.6" y="698.4" class="tx">110</text>
<line x1="954.5" y1="696" x2="954.5" y2="716.4" class="d"/>
<line x1="1183.4" y1="700.5" x2="1240.6" y2="700.5" class="d"/>
<line x1="1216.9" y1="704.3" x2="1225.1" y2="696.1" class="t"/>
<line x1="1229.5" y1="704.3" x2="1237.7" y2="696.1" class="t"/>
<text x="1196.2" y="698.4" class="tx">110</text>
<line x1="1221.5" y1="696" x2="1221.5" y2="716.4" class="d"/>
<line x1="1148.5" y1="623.8" x2="1148.5" y2="808.3" class="d"/>
<line x1="1144.4" y1="626.7" x2="1152.6" y2="634.9" class="t"/>
<line x1="1144.4" y1="672.3" x2="1152.6" y2="680.5" class="t"/>
<line x1="1144.4" y1="722.3" x2="1152.6" y2="730.5" class="t"/>
<line x1="1144.4" y1="775.7" x2="1152.6" y2="783.9" class="t"/>
<line x1="1144.4" y1="797.2" x2="1152.6" y2="805.4" class="t"/>
<text transform="translate(1146.7 653.6) rotate(-90)" class="tx">400</text>
<text transform="translate(1146.7 701.4) rotate(-90)" class="tx">440</text>
<text transform="translate(1146.7 753.1) rotate(-90)" class="tx">470</text>
<text transform="translate(1146.7 790.55) rotate(-90)" class="tx">190</text>
<line x1="1119" y1="676.5" x2="1152.8" y2="676.5" class="d"/>
<line x1="1115" y1="726.5" x2="1152.8" y2="726.5" class="d"/>
<line x1="1111.5" y1="779.5" x2="1152.8" y2="779.5" class="d"/>
<line x1="1276.5" y1="623.8" x2="1276.5" y2="808.3" class="d"/>
<line x1="1272.7" y1="626.7" x2="1280.9" y2="634.9" class="t"/>
<line x1="1272.7" y1="712.3" x2="1280.9" y2="720.5" class="t"/>
<line x1="1272.7" y1="797.2" x2="1280.9" y2="805.4" class="t"/>
<text transform="translate(1275 673.6) rotate(-90)" class="tx">750</text>
<text transform="translate(1275 759) rotate(-90)" class="tx">750</text>
<line x1="1297.5" y1="623.8" x2="1297.5" y2="808.3" class="d"/>
<line x1="1293.3" y1="626.7" x2="1301.5" y2="634.9" class="t"/>
<line x1="1293.3" y1="797.2" x2="1301.5" y2="805.4" class="t"/>
<text transform="translate(1295.6 716.2) rotate(-90)" class="tx">1500</text>
<line x1="1259.3" y1="630.5" x2="1302" y2="630.5" class="d"/>
<line x1="1236" y1="716.5" x2="1280.8" y2="716.5" class="d"/>
<line x1="1206" y1="801.5" x2="1302" y2="801.5" class="d"/>
<line x1="960.3" y1="837.5" x2="1215.4" y2="837.5" class="d"/>
<line x1="963.2" y1="842" x2="971.4" y2="833.8" class="t"/>
<line x1="1204.3" y1="842" x2="1212.5" y2="833.8" class="t"/>
<text x="1088" y="836.1" class="tx">2120</text>
<line x1="967.5" y1="802.5" x2="967.5" y2="842.5" class="d"/>
<line x1="1208.5" y1="802.5" x2="1208.5" y2="842.5" class="d"/>
</svg>
</body>
</html>
